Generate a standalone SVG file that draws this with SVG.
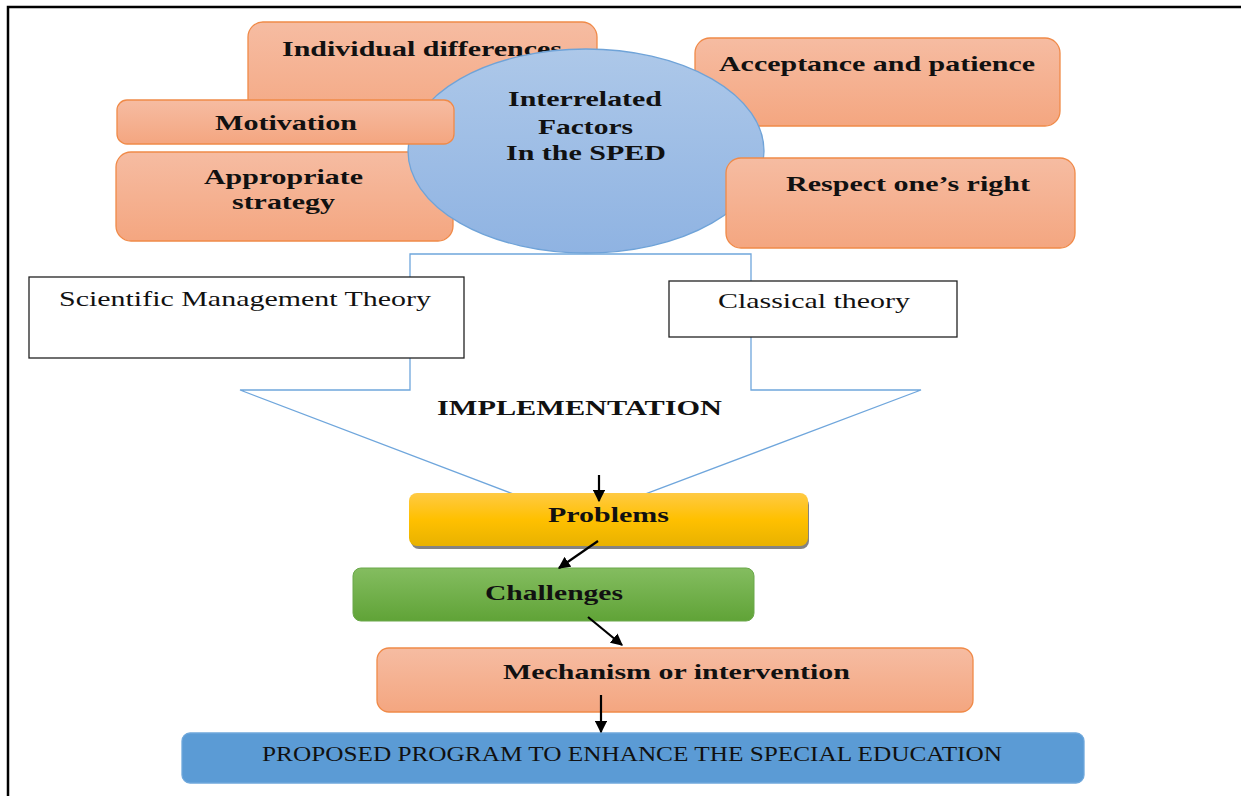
<svg xmlns="http://www.w3.org/2000/svg" width="1241" height="796" viewBox="0 0 1241 796">
<style>
.b{font-family:"Liberation Serif","Times New Roman",serif;font-weight:bold;font-size:22px;fill:#111}
.r{font-family:"Liberation Serif","Times New Roman",serif;font-size:21px;fill:#111}
.sal{fill:url(#gSal);stroke:#f08a48;stroke-width:1.3}
.plain{fill:#fff;stroke:#222;stroke-width:1.3}
.con{stroke:#000;stroke-width:2.2;fill:none;marker-end:url(#ah)}
</style>
<defs>
<linearGradient id="gSal" x1="0" y1="0" x2="0" y2="1"><stop offset="0" stop-color="#f6bca2"/><stop offset="1" stop-color="#f4a680"/></linearGradient>
<linearGradient id="gEll" x1="0" y1="0" x2="0" y2="1"><stop offset="0" stop-color="#adc8e9"/><stop offset="1" stop-color="#8fb3e2"/></linearGradient>
<linearGradient id="gGold" x1="0" y1="0" x2="0" y2="1"><stop offset="0" stop-color="#ffca44"/><stop offset="0.5" stop-color="#ffc000"/><stop offset="1" stop-color="#e8b200"/></linearGradient>
<linearGradient id="gGreen" x1="0" y1="0" x2="0" y2="1"><stop offset="0" stop-color="#84bd60"/><stop offset="1" stop-color="#60a337"/></linearGradient>
<marker id="ah" viewBox="0 0 10 10" refX="9" refY="5" markerWidth="5.5" markerHeight="5.5" orient="auto" markerUnits="strokeWidth"><path d="M0,0 L10,5 L0,10 z" fill="#000"/></marker>
</defs>
<rect width="1241" height="796" fill="#fff"/>
<path d="M8,796 V7 H1241" fill="none" stroke="#000" stroke-width="2.5"/>

<g id="n-individual"><rect class="sal" x="248" y="22" width="349" height="110" rx="15"/><text class="b" x="282" y="56" textLength="280" lengthAdjust="spacingAndGlyphs">Individual differences</text></g>
<g id="n-strategy"><rect class="sal" x="116" y="152" width="337" height="89" rx="15"/><text class="b" x="204" y="184" textLength="159" lengthAdjust="spacingAndGlyphs">Appropriate</text><text class="b" x="232" y="209" textLength="103" lengthAdjust="spacingAndGlyphs">strategy</text></g>
<g id="n-acceptance"><rect class="sal" x="695" y="38" width="365" height="88" rx="15"/><text class="b" x="719" y="71" textLength="316" lengthAdjust="spacingAndGlyphs">Acceptance and patience</text></g>

<g id="implementation-arrow"><polygon points="410,254 751,254 751,390 921,390 579,519 240,390 410,390" fill="none" stroke="#6fa6dc" stroke-width="1.3"/><text class="b" x="437" y="415" textLength="285" lengthAdjust="spacingAndGlyphs">IMPLEMENTATION</text></g>

<g id="n-center"><ellipse cx="586" cy="151" rx="178" ry="102" fill="url(#gEll)" stroke="#6fa3d8" stroke-width="1.3"/><text class="b" x="508" y="106" textLength="154" lengthAdjust="spacingAndGlyphs">Interrelated</text><text class="b" x="538" y="134" textLength="95" lengthAdjust="spacingAndGlyphs">Factors</text><text class="b" x="506" y="160" textLength="160" lengthAdjust="spacingAndGlyphs">In the SPED</text></g>
<g id="n-motivation"><rect class="sal" x="117" y="100" width="337" height="44" rx="10"/><text class="b" x="215" y="130" textLength="142" lengthAdjust="spacingAndGlyphs">Motivation</text></g>
<g id="n-respect"><rect class="sal" x="726" y="158" width="349" height="90" rx="15"/><text class="b" x="786" y="191" textLength="244" lengthAdjust="spacingAndGlyphs">Respect one’s right</text></g>

<g id="n-scientific"><rect class="plain" x="29" y="277" width="435" height="81"/><text class="r" x="59" y="306" textLength="372" lengthAdjust="spacingAndGlyphs">Scientific Management Theory</text></g>
<g id="n-classical"><rect class="plain" x="669" y="281" width="288" height="56"/><text class="r" x="718" y="308" textLength="192" lengthAdjust="spacingAndGlyphs">Classical theory</text></g>

<g id="n-problems"><rect x="411" y="497" width="398" height="52" rx="8" fill="#5a5a5a" opacity="0.75"/><rect x="409" y="493" width="399" height="53" rx="8" fill="url(#gGold)"/><text class="b" x="548" y="522" textLength="121" lengthAdjust="spacingAndGlyphs">Problems</text></g>
<g id="n-challenges"><rect x="353" y="568" width="401" height="53" rx="8" fill="url(#gGreen)" stroke="#6aa84a" stroke-width="1"/><text class="b" x="485" y="600" textLength="138" lengthAdjust="spacingAndGlyphs">Challenges</text></g>
<g id="n-mechanism"><rect class="sal" x="377" y="648" width="596" height="64" rx="12"/><text class="b" x="503" y="679" textLength="347" lengthAdjust="spacingAndGlyphs">Mechanism or intervention</text></g>
<g id="n-proposed"><rect x="182" y="733" width="902" height="50" rx="8" fill="#5b9bd5" stroke="#6fa8dc" stroke-width="1.3"/><text class="r" x="262" y="761" font-size="19" textLength="740" lengthAdjust="spacingAndGlyphs">PROPOSED PROGRAM TO ENHANCE THE SPECIAL EDUCATION</text></g>

<g id="connectors">
<line class="con" x1="599" y1="475" x2="599" y2="501"/>
<line class="con" x1="598" y1="541" x2="559" y2="568"/>
<line class="con" x1="588" y1="617" x2="622" y2="645"/>
<line class="con" x1="601" y1="695" x2="601" y2="732"/>
</g>
</svg>
